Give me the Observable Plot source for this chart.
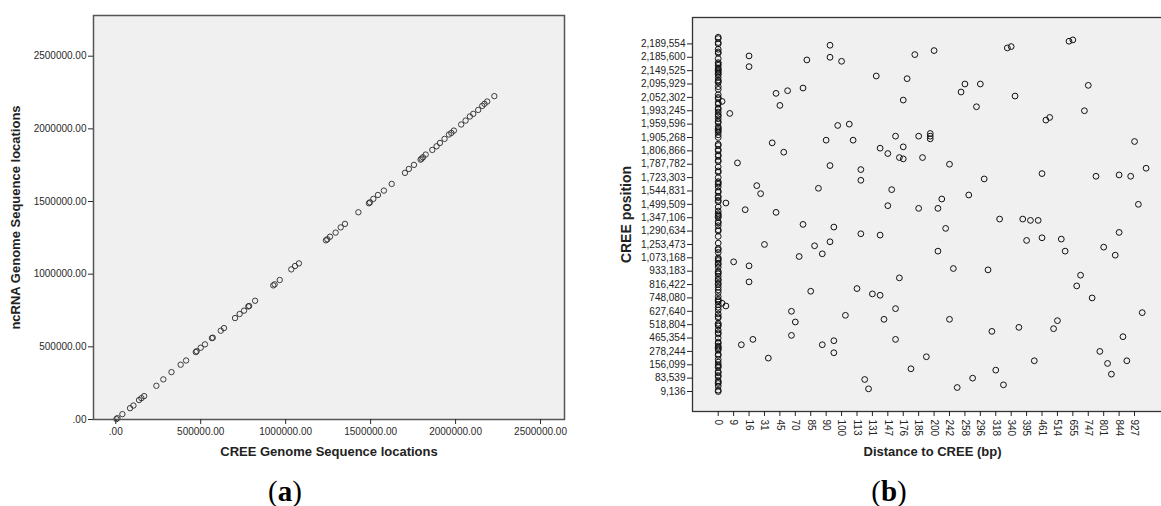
<!DOCTYPE html>
<html><head><meta charset="utf-8">
<script src="https://cdn.jsdelivr.net/npm/d3@7"></script>
<script src="https://cdn.jsdelivr.net/npm/@observablehq/plot@0.6"></script>
<style>
html,body{margin:0;padding:0;background:#fff;overflow:hidden;}
#wrap{position:relative;width:1161px;height:506px;overflow:hidden;background:#fff;}
.panel{position:absolute;top:0;}
.cap{position:absolute;font-family:"Liberation Serif","DejaVu Serif",serif;font-size:29px;line-height:1;font-weight:bold;top:477px;transform:translateX(-50%);color:#000;white-space:nowrap;}
.cap span{font-weight:normal;}
</style></head><body><div id="wrap"></div>
<script>
// ---------- Panel (a) data ----------
const creeLoc = [4000,10000,39000,84000,104000,137000,151000,167000,239000,280000,328000,382000,414000,471000,476000,500000,525000,566000,571000,618000,637000,702000,729000,755000,780000,785000,820000,927000,935000,965000,1033000,1055000,1078000,1237000,1245000,1261000,1294000,1324000,1349000,1428000,1490000,1496000,1516000,1543000,1578000,1624000,1702000,1725000,1755000,1794000,1800000,1808000,1824000,1863000,1888000,1908000,1935000,1961000,1975000,1990000,2033000,2059000,2084000,2104000,2133000,2157000,2170000,2186000,2228000];
const ncrnaLoc = [3000,9600,37000,78000,96000,134000,147000,161000,232000,276000,326000,377000,406000,464000,470000,494000,517000,560000,563000,611000,629000,698000,726000,749000,778000,781000,817000,923000,930000,960000,1033000,1056000,1074000,1233000,1240000,1258000,1286000,1322000,1346000,1426000,1488000,1494000,1518000,1545000,1575000,1621000,1697000,1724000,1752000,1788000,1795000,1804000,1823000,1855000,1880000,1903000,1931000,1961000,1972000,1988000,2030000,2057000,2085000,2103000,2130000,2158000,2172000,2188000,2225000];
const aTicks = [0,500000,1000000,1500000,2000000,2500000];
const aXTitle = "CREE Genome Sequence locations";
const aYTitle = "ncRNA Genome Sequence locations";

// ---------- Panel (b) data ----------
// distance categories (index along the category axis) and their tick labels
const distTickIdx = [0,4,8,12,16,20,24,28,32,36,40,44,48,52,56,60,64,68,72,76,80,84,88,92,96,100,104,108];
const distTickLabels = ["0","9","16","31","45","70","85","90","100","113","131","147","176","185","200","242","258","296","318","340","395","461","514","655","747","801","844","927"];
// CREE position categories (row index) and their tick labels
const posTickIdx = [0,10,20,30,40,50,60,70,80,90,100,110,120,130,140,150,160,170,180,190,200,210,220,230,240,250,260];
const posTickLabels = ["9,136","83,539","156,099","278,244","465,354","518,804","627,640","748,080","816,422","933,183","1,073,168","1,253,473","1,290,634","1,347,106","1,499,509","1,544,831","1,723,303","1,787,782","1,806,866","1,905,268","1,959,596","1,993,245","2,052,302","2,095,929","2,149,525","2,185,600","2,189,554"];
// points with non-zero distance: category index and row index
const bDistIdx = [1,3,5,2,8,8,7,10,11,15,18,16,22,14,17,15,23,29,29,32,26,28,31,34,35,29,37,37,41,49,48,51,42,44,46,48,47,48,52,53,45,44,52,55,55,55,56,75,76,91,92,63,64,68,67,77,96,95,85,86,108,60,69,84,98,104,107,111,65,58,57,109,73,79,81,83,59,57,61,70,80,84,89,90,104,100,103,94,93,97,110,60,71,78,88,87,105,54,82,99,101,106,102,72,66,62,74,2,1,4,8,8,12,22,30,37,42,25,29,27,21,24,36,40,42,47,46,43,33,19,20,19,9,6,13,27,30,30,46,50,38,39];
const bPosIdx = [217,208,171,141,251,243,136,154,148,223,225,214,227,186,179,134,248,259,250,247,152,188,199,200,188,169,166,158,236,234,218,252,182,178,191,183,175,174,191,175,151,139,137,193,191,189,255,257,258,262,263,224,230,230,213,221,229,210,203,205,187,170,159,163,161,162,161,167,147,144,137,140,129,129,128,128,122,105,92,91,113,115,114,105,119,108,102,87,79,70,59,54,45,48,53,47,41,26,23,30,21,23,13,16,10,3,5,64,66,97,94,82,110,125,123,118,117,109,112,103,101,75,77,73,72,85,62,54,57,60,52,42,39,35,25,35,38,29,39,17,9,2];
// rows whose distance is 0
const zeroRows = [0,1,4,6,7,8,11,12,14,15,18,19,20,22,24,27,28,31,32,33,34,36,37,40,43,44,46,49,50,51,55,56,58,61,63,65,67,68,69,71,74,76,78,80,81,83,84,86,88,89,90,93,95,96,98,99,100,104,106,107,111,116,120,121,124,126,127,130,131,132,133,135,138,142,143,145,146,149,150,153,155,156,157,160,164,165,168,172,173,176,177,180,181,184,185,190,192,194,195,196,197,198,201,202,204,206,207,209,211,212,215,216,219,220,222,226,228,231,232,233,235,237,238,239,240,241,242,244,245,246,249,253,254,256,260,261,264,265];
const bXTitle = "Distance to CREE (bp)";
const bYTitle = "CREE position";

const FONT = "'Liberation Sans', Arial, sans-serif";
const wrap = document.getElementById("wrap");

// ---------- Panel (a) ----------
const aData = creeLoc.map((c, i) => ({cree: c, ncrna: ncrnaLoc[i]}));
const fmtA = d => d === 0 ? ".00" : d.toFixed(2);
const plotA = Plot.plot({
  width: 580, height: 470,
  marginLeft: 93, marginRight: 16, marginTop: 15, marginBottom: 51,
  style: {fontFamily: FONT, fontSize: "10px", color: "#2a2a2a", background: "transparent", overflow: "visible"},
  x: {domain: [-131000, 2641000]},
  y: {domain: [0, 2780000]},
  marks: [
    Plot.frame({fill: "#f0f0f0"}),
    Plot.dot(aData, {x: "cree", y: "ncrna", r: 2.7, stroke: "#2a2a2a", strokeWidth: 0.9, fill: "none"}),
    Plot.frame({stroke: "#555", strokeWidth: 1.5}),
    Plot.axisX({ticks: aTicks, tickFormat: fmtA, tickSize: 5, tickPadding: 3, label: null}),
    Plot.axisY({ticks: aTicks, tickFormat: fmtA, tickSize: 5, tickPadding: 2, label: null}),
    Plot.text([aXTitle], {text: d => d, frameAnchor: "bottom", lineAnchor: "middle", textAnchor: "middle", dy: 32, fontWeight: "bold", fontSize: 13, fill: "#222"}),
    Plot.text([aYTitle], {text: d => d, frameAnchor: "left", lineAnchor: "middle", textAnchor: "middle", rotate: -90, dx: -78, fontWeight: "bold", fontSize: 13, fill: "#222"})
  ]
});
plotA.classList.add("panel");
plotA.style.left = "0px";
wrap.appendChild(plotA);

// ---------- Panel (b) ----------
const bData = zeroRows.map(r => ({dist: 0, pos: r}))
  .concat(bDistIdx.map((d, i) => ({dist: d, pos: bPosIdx[i]})));
const plotB = Plot.plot({
  width: 592, height: 470,
  marginLeft: 112, marginRight: 0, marginTop: 17, marginBottom: 59,
  style: {fontFamily: FONT, fontSize: "10px", color: "#222", background: "transparent", overflow: "visible"},
  x: {domain: [-6.67, 117.85]},
  y: {domain: [-14.94, 279.75]},
  marks: [
    Plot.frame({fill: "#f0f0f0"}),
    Plot.dot(bData, {x: "dist", y: "pos", r: 2.9, stroke: "#111", strokeWidth: 1, fill: "none"}),
    Plot.frame({stroke: "#333", strokeWidth: 1.3}),
    Plot.axisX({ticks: distTickIdx, tickFormat: d => distTickLabels[distTickIdx.indexOf(d)], tickSize: 5, tickPadding: 3, tickRotate: 90, label: null}),
    Plot.axisY({ticks: posTickIdx, tickFormat: d => posTickLabels[posTickIdx.indexOf(d)], tickSize: 5, tickPadding: 2, label: null}),
    Plot.text([bXTitle], {text: d => d, frameAnchor: "bottom", lineAnchor: "middle", textAnchor: "middle", dy: 40, fontWeight: "bold", fontSize: 13, fill: "#222"}),
    Plot.text([bYTitle], {text: d => d, frameAnchor: "left", lineAnchor: "middle", textAnchor: "middle", rotate: -90, dx: -66, fontWeight: "bold", fontSize: 14, fill: "#222"})
  ]
});
plotB.classList.add("panel");
plotB.style.left = "580px";
wrap.appendChild(plotB);

// ---------- Captions ----------
const capA = document.createElement("div");
capA.className = "cap"; capA.style.left = "285px";
capA.innerHTML = "<span>(</span>a<span>)</span>";
wrap.appendChild(capA);
const capB = document.createElement("div");
capB.className = "cap"; capB.style.left = "889px";
capB.innerHTML = "<span>(</span>b<span>)</span>";
wrap.appendChild(capB);
</script></body></html>
